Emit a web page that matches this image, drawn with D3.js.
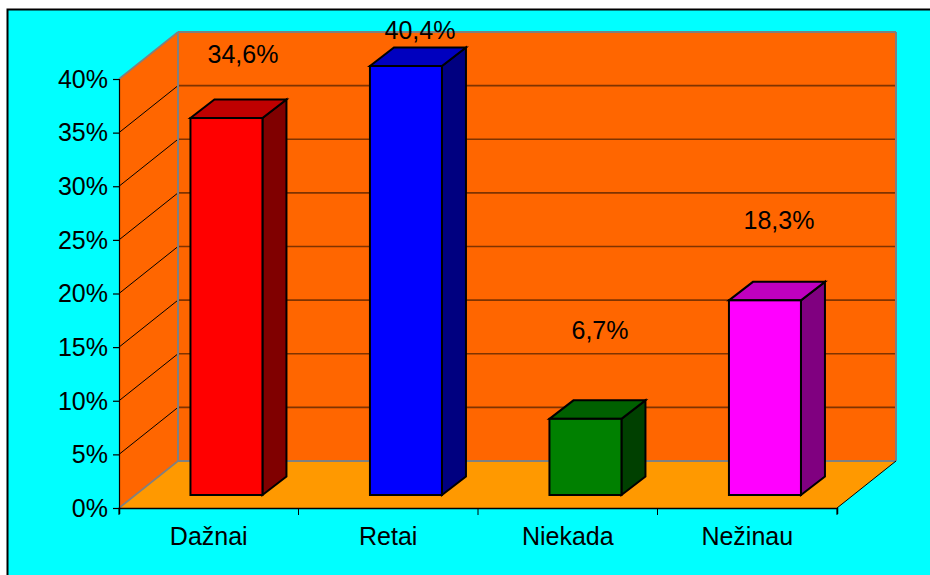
<!DOCTYPE html>
<html><head><meta charset="utf-8">
<script src="https://cdnjs.cloudflare.com/ajax/libs/d3/7.8.5/d3.min.js"></script>
<style>html,body{margin:0;padding:0;background:#fff;overflow:hidden}svg{display:block}text{font-family:"Liberation Sans",Arial,sans-serif;fill:#000}</style>
</head><body><svg id="c" width="930" height="575"></svg>
<script>
const categories = ["Dažnai","Retai","Niekada","Nežinau"];
const barValues = [35.15,40.4,7.1,18.15];
const valueLabels = ["34,6%","40,4%","6,7%","18,3%"];
const yTicks = [0,5,10,15,20,25,30,35,40];
const barColors = ["#ff0000","#0000ff","#008000","#ff00ff"];
const topColors = ["#bf0000","#0000bf","#006000","#bf00bf"];
const sideColors = ["#800000","#000080","#004000","#800080"];
const labelCenters = [[243,55],[420,31],[600,331],[779,221]];

const svg = d3.select("#c");
const L=119,R=837,B=508,T=79,DX=59,DY=-47;
const x = d3.scaleBand().domain(categories).range([L,R]).paddingInner(0).paddingOuter(0);
const y = d3.scaleLinear().domain([0,40]).range([B,T]);
const path = d3.line();

svg.append("rect").attr("x",7.5).attr("y",9.5).attr("width",940).attr("height",600).attr("fill","#00ffff").attr("stroke","#000").attr("stroke-width",2);

// walls
svg.append("path").attr("d",path([[L,B],[L,T],[L+DX,T+DY],[L+DX,B+DY]])+"Z").attr("fill","#ff6600");
svg.append("path").attr("d",path([[L+DX,T+DY],[R+DX,T+DY],[R+DX,B+DY],[L+DX,B+DY]])+"Z").attr("fill","#ff6600");
svg.append("path").attr("d",path([[L,B],[R,B],[R+DX,B+DY],[L+DX,B+DY]])+"Z").attr("fill","#ff9900");

// gridlines
yTicks.slice(1,-1).forEach(t=>{
  svg.append("line").attr("x1",L).attr("y1",y(t)).attr("x2",L+DX).attr("y2",y(t)+DY).attr("stroke","#000").attr("stroke-width",1);
  svg.append("line").attr("x1",L+DX).attr("y1",y(t)+DY).attr("x2",R+DX).attr("y2",y(t)+DY).attr("stroke","#7f3300").attr("stroke-width",1.6);
});
// wall edges
const edge=(a,b,w)=>svg.append("line").attr("x1",a[0]).attr("y1",a[1]).attr("x2",b[0]).attr("y2",b[1]).attr("stroke","#808080").attr("stroke-width",w);
edge([L+DX,T+DY],[R+DX,T+DY],2);
edge([L,T],[L+DX,T+DY],1.6);
edge([L,B],[L+DX,B+DY],1.6);
edge([L+DX,T+DY],[L+DX,B+DY],2);
edge([L+DX,B+DY],[R+DX,B+DY],2);
edge([R+DX,T+DY],[R+DX,B+DY],2);
svg.append("line").attr("x1",R).attr("y1",B).attr("x2",R+DX).attr("y2",B+DY).attr("stroke","#000");

// bars
const bw=72, bdx=24, bdy=-18.5, lift=13, shift=17.7;
categories.forEach((c,i)=>{
  const cx=x(c)+x.bandwidth()/2+shift;
  const x0=cx-bw/2, x1=cx+bw/2;
  const yb=B-lift, yt=y(Math.min(barValues[i],40))-lift;
  const g=svg.append("g").attr("stroke","#000").attr("stroke-width",2).attr("stroke-linejoin","miter");
  g.append("path").attr("d",path([[x1,yb],[x1,yt],[x1+bdx,yt+bdy],[x1+bdx,yb+bdy]])+"Z").attr("fill",sideColors[i]);
  g.append("path").attr("d",path([[x0,yt],[x0+bdx,yt+bdy],[x1+bdx,yt+bdy],[x1,yt]])+"Z").attr("fill",topColors[i]);
  g.append("rect").attr("x",x0).attr("y",yt).attr("width",bw).attr("height",yb-yt).attr("fill",barColors[i]);
});

// axes
const yAxis=d3.axisLeft(y).tickValues(yTicks).tickFormat(d=>d+"%").tickSize(6).tickPadding(5);
const gy=svg.append("g").attr("transform",`translate(${L},0)`).call(yAxis);
gy.selectAll("text").style("font-size","25px").attr("dy","0.33em");
gy.selectAll("line,path").attr("stroke","#000").attr("stroke-width",1.2);
const xAxis=d3.axisBottom(x).tickSize(6).tickSizeOuter(6).tickPadding(13);
const gx=svg.append("g").attr("transform",`translate(0,${B})`).call(xAxis);
gx.selectAll(".tick line").remove();
gx.selectAll(".edge").data(d3.range(categories.length+1)).enter().append("line").attr("class","edge")
  .attr("x1",i=>L+i*x.bandwidth()).attr("x2",i=>L+i*x.bandwidth()).attr("y1",0).attr("y2",7).attr("stroke","#000");
gx.select("path").attr("stroke","#000").attr("stroke-width",1.5);
gx.selectAll("text").style("font-size","25px").attr("fill","#000");

// labels
svg.selectAll(".vl").data(valueLabels).enter().append("text").attr("class","vl")
  .attr("x",(d,i)=>labelCenters[i][0]).attr("y",(d,i)=>labelCenters[i][1]).attr("dy","0.33em")
  .attr("text-anchor","middle").style("font-size","25px").text(d=>d);
</script></body></html>
